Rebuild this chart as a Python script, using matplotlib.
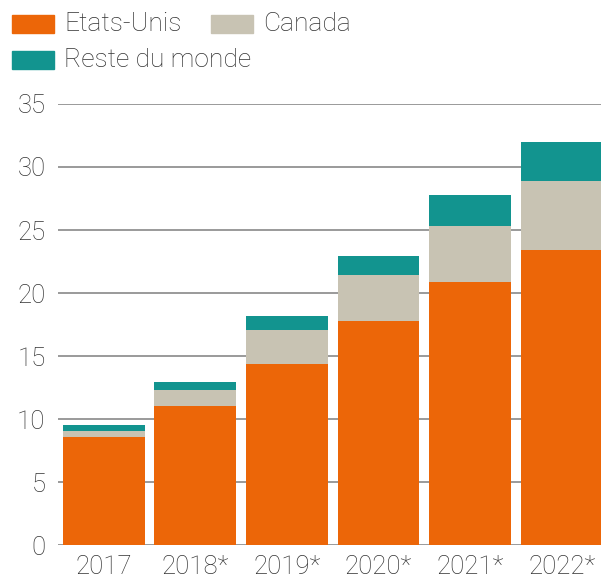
import matplotlib.pyplot as plt
from matplotlib.patches import Rectangle

# données
annees = ["2017", "2018*", "2019*", "2020*", "2021*", "2022*"]
etats_unis = [8.6, 11.0, 14.4, 17.8, 20.9, 23.4]
canada = [0.45, 1.3, 2.7, 3.6, 4.4, 5.5]
reste_monde = [0.45, 0.6, 1.05, 1.5, 2.5, 3.1]

series = ["Etats-Unis", "Canada", "Reste du monde"]
couleurs = ["#EC6608", "#C8C3B3", "#12948F"]

plt.rcParams['font.family'] = ['Roboto', 'DejaVu Sans']
plt.rcParams['font.weight'] = 'light'

fig = plt.figure(figsize=(6.01, 5.80), dpi=100)
ax = fig.add_axes([0.0965, 0.0603, 0.9035, 0.7604])

x = range(len(annees))
bas2 = [a + b for a, b in zip(etats_unis, canada)]
ax.bar(x, etats_unis, width=0.895, color=couleurs[0], zorder=2)
ax.bar(x, canada, bottom=etats_unis, width=0.895, color=couleurs[1], zorder=2)
ax.bar(x, reste_monde, bottom=bas2, width=0.895, color=couleurs[2], zorder=2)

ax.set_xlim(-0.5, 5.43)
ax.set_ylim(0, 35)
ax.set_yticks(range(0, 36, 5))
ax.set_xticks(list(x))
ax.set_xticklabels(annees)
ax.yaxis.grid(True, color="#9a9a9a", linewidth=1.4, zorder=0)
ax.set_axisbelow(True)
for s in ax.spines.values():
    s.set_visible(False)
ax.tick_params(axis="both", length=0, labelsize=18.5, colors="#333333")
ax.tick_params(axis="y", pad=9)
ax.tick_params(axis="x", pad=7)

# légende manuelle
W, H = 601, 580
pos = [(12, 15), (211, 15), (12, 51)]
for (px, py), nom, c in zip(pos, series, couleurs):
    fig.patches.append(Rectangle((px / W, 1 - (py + 18) / H), 42 / W, 18 / H,
                                 transform=fig.transFigure, color=c))
    fig.text((px + 52) / W, 1 - (py + 9) / H, nom, fontsize=19,
             color="#333333", va="center", ha="left")

fig.savefig("out.png", dpi=100)
